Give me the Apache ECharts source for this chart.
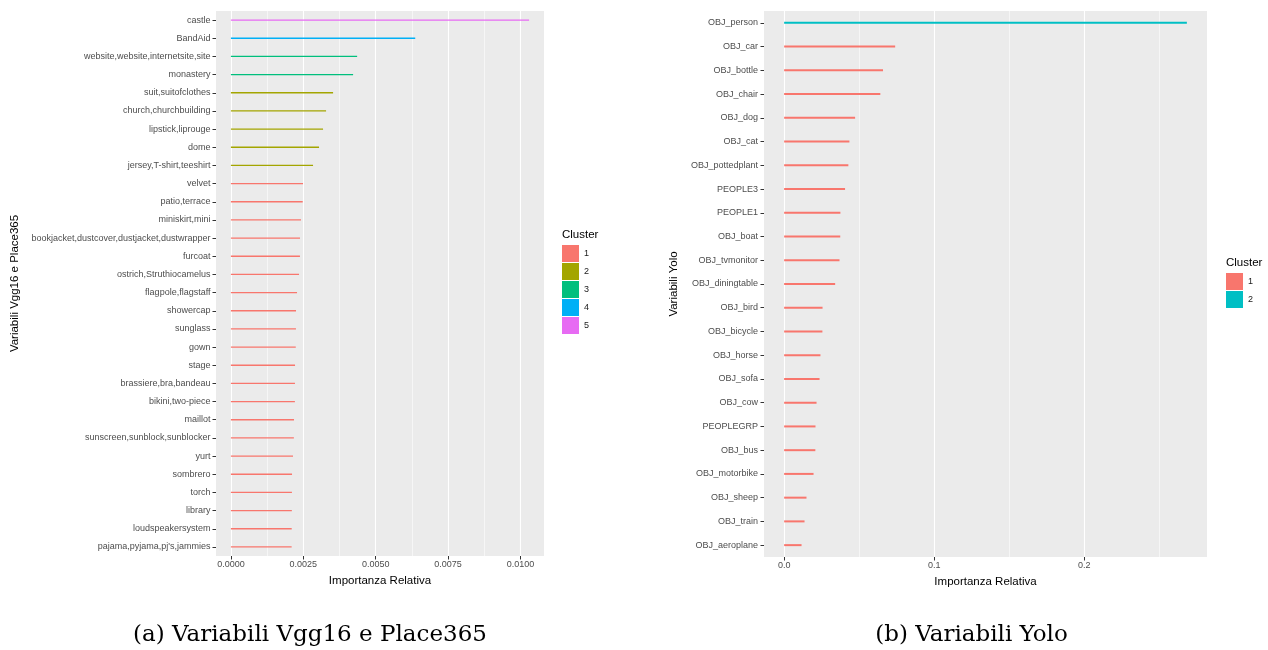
<!DOCTYPE html>
<html>
<head>
<meta charset="utf-8">
<title>Importanza Relativa</title>
<script src="https://cdn.jsdelivr.net/npm/echarts@6/dist/echarts.min.js"></script>
<style>
  html, body { margin: 0; padding: 0; background: #ffffff; }
  #vgg { position: absolute; left: 0; top: 0; width: 634px; height: 650px; }
  #yolo { position: absolute; left: 634px; top: 0; width: 634px; height: 650px; }
</style>
</head>
<body>
<div id="vgg"></div>
<div id="yolo"></div>
<script>
// ---- Vgg16 + Place365 variables ----
const vggCategories = [
  'castle', 'BandAid', 'website,website,internetsite,site', 'monastery',
  'suit,suitofclothes', 'church,churchbuilding', 'lipstick,liprouge', 'dome',
  'jersey,T-shirt,teeshirt', 'velvet', 'patio,terrace', 'miniskirt,mini',
  'bookjacket,dustcover,dustjacket,dustwrapper', 'furcoat', 'ostrich,Struthiocamelus',
  'flagpole,flagstaff', 'showercap', 'sunglass', 'gown', 'stage',
  'brassiere,bra,bandeau', 'bikini,two-piece', 'maillot', 'sunscreen,sunblock,sunblocker',
  'yurt', 'sombrero', 'torch', 'library', 'loudspeakersystem', "pajama,pyjama,pj's,jammies"
];
const vggValues = [
  0.01030, 0.006367, 0.004360, 0.004221,
  0.003529, 0.003287, 0.003183, 0.003045,
  0.002837, 0.002491, 0.002480, 0.002422,
  0.002388, 0.002385, 0.002353,
  0.002284, 0.002249, 0.002247, 0.002240, 0.002215,
  0.002213, 0.002210, 0.002180, 0.002175,
  0.002145, 0.002111, 0.002108, 0.002105, 0.002100, 0.002098
];
const vggClusters = [
  '5', '4', '3', '3',
  '2', '2', '2', '2',
  '2', '1', '1', '1',
  '1', '1', '1',
  '1', '1', '1', '1', '1',
  '1', '1', '1', '1',
  '1', '1', '1', '1', '1', '1'
];
const vggClusterNames = ['1', '2', '3', '4', '5'];
const vggColors = ['#F8766D', '#A3A500', '#00BF7D', '#00B0F6', '#E76BF3'];
const vggTicks = [0, 0.0025, 0.005, 0.0075, 0.01];
const vggMinorTicks = [0.00125, 0.00375, 0.00625, 0.00875];

// ---- Yolo variables ----
const yoloCategories = [
  'OBJ_person', 'OBJ_car', 'OBJ_bottle', 'OBJ_chair', 'OBJ_dog', 'OBJ_cat',
  'OBJ_pottedplant', 'PEOPLE3', 'PEOPLE1', 'OBJ_boat', 'OBJ_tvmonitor',
  'OBJ_diningtable', 'OBJ_bird', 'OBJ_bicycle', 'OBJ_horse', 'OBJ_sofa',
  'OBJ_cow', 'PEOPLEGRP', 'OBJ_bus', 'OBJ_motorbike', 'OBJ_sheep', 'OBJ_train',
  'OBJ_aeroplane'
];
const yoloValues = [
  0.2684, 0.0740, 0.0659, 0.0641, 0.0473, 0.0435,
  0.0428, 0.0406, 0.0375, 0.0374, 0.0369,
  0.0340, 0.0256, 0.0255, 0.0242, 0.0236,
  0.0216, 0.0209, 0.0208, 0.0196, 0.0149, 0.0136,
  0.0116
];
const yoloClusters = [
  '2', '1', '1', '1', '1', '1',
  '1', '1', '1', '1', '1',
  '1', '1', '1', '1', '1',
  '1', '1', '1', '1', '1', '1',
  '1'
];
const yoloClusterNames = ['1', '2'];
const yoloColors = ['#F8766D', '#00BFC4'];
const yoloTicks = [0, 0.1, 0.2];
const yoloMinorTicks = [0.05, 0.15, 0.25];

const FONT = '"Liberation Sans", Arial, Helvetica, sans-serif';
const SERIF = '"DejaVu Serif", "Liberation Serif", serif';

function buildOption(cfg) {
  const maxVal = Math.max.apply(null, cfg.values);
  // 5% padding on both sides of the value range
  const lo = -0.05 * maxVal;
  const hi = maxVal * 1.05;

  const series = cfg.clusterNames.map(function (name, k) {
    return {
      name: name,
      type: 'bar',
      xAxisIndex: 0,
      yAxisIndex: 0,
      barWidth: cfg.lineWidth,
      barGap: '-100%',
      itemStyle: { color: cfg.colors[k] },
      emphasis: { disabled: true },
      silent: true,
      data: cfg.values.map(function (v, i) {
        return cfg.clusters[i] === name ? v : '-';
      })
    };
  });

  const valueAxisCommon = {
    type: 'value',
    gridIndex: 0,
    min: lo,
    max: hi,
    axisLine: { show: false, onZero: false }
  };

  return {
    animation: false,
    textStyle: { fontFamily: FONT },
    grid: {
      left: cfg.grid.left, top: cfg.grid.top,
      width: cfg.grid.width, height: cfg.grid.height,
      show: true, backgroundColor: '#EBEBEB', borderWidth: 0
    },
    xAxis: [
      Object.assign({}, valueAxisCommon, {
        position: 'bottom',
        name: 'Importanza Relativa',
        nameLocation: 'middle',
        nameGap: 18,
        nameTextStyle: { color: '#000000', fontSize: 11.5, fontFamily: FONT },
        axisTick: {
          show: true, length: 3.5, customValues: cfg.ticks,
          lineStyle: { color: '#333333', width: 1 }
        },
        axisLabel: {
          show: true, margin: 4.5, customValues: cfg.ticks,
          color: '#4D4D4D', fontSize: 9, fontFamily: FONT,
          formatter: function (v) { return v.toFixed(cfg.decimals); }
        },
        splitLine: { show: true, lineStyle: { color: '#FFFFFF', width: 1.1 } }
      }),
      Object.assign({}, valueAxisCommon, {
        position: 'bottom',
        axisTick: { show: false, customValues: cfg.minorTicks },
        axisLabel: { show: false, customValues: cfg.minorTicks },
        splitLine: { show: true, lineStyle: { color: '#FFFFFF', width: 0.55 } }
      })
    ],
    yAxis: {
      type: 'category',
      gridIndex: 0,
      inverse: true,
      position: 'left',
      data: cfg.categories,
      name: cfg.yName,
      nameLocation: 'middle',
      nameGap: cfg.yNameGap,
      nameTextStyle: { color: '#000000', fontSize: 11.5, fontFamily: FONT },
      axisLine: { show: false, onZero: false },
      axisTick: {
        show: true, alignWithLabel: true, length: 3.5,
        lineStyle: { color: '#333333', width: 1 }
      },
      axisLabel: {
        show: true, interval: 0, margin: cfg.yLabelMargin,
        color: '#4D4D4D', fontSize: 9, fontFamily: FONT
      },
      splitLine: { show: false }
    },
    legend: {
      data: cfg.clusterNames,
      orient: 'vertical',
      left: cfg.legend.left,
      top: cfg.legend.top,
      icon: 'rect',
      itemWidth: 17,
      itemHeight: 17,
      itemGap: 1,
      padding: 0,
      selectedMode: false,
      textStyle: { color: '#1A1A1A', fontSize: 9, fontFamily: FONT }
    },
    graphic: [
      {
        type: 'text',
        left: cfg.legend.left, top: cfg.legend.titleTop,
        style: { text: 'Cluster', fill: '#000000', font: '11.5px ' + FONT }
      },
      {
        type: 'text',
        x: cfg.caption.x, y: cfg.caption.y,
        style: {
          text: cfg.caption.text, fill: '#000000',
          font: cfg.caption.size + 'px ' + SERIF,
          textAlign: 'center', textVerticalAlign: 'middle'
        }
      }
    ],
    series: series
  };
}

const vggChart = echarts.init(document.getElementById('vgg'), null, { renderer: 'canvas' });
vggChart.setOption(buildOption({
  categories: vggCategories,
  values: vggValues,
  clusters: vggClusters,
  clusterNames: vggClusterNames,
  colors: vggColors,
  ticks: vggTicks,
  minorTicks: vggMinorTicks,
  decimals: 4,
  lineWidth: 1.3,
  grid: { left: 216, top: 11, width: 328, height: 545 },
  yName: 'Variabili Vgg16 e Place365',
  yNameGap: 195,
  yLabelMargin: 5.5,
  legend: { left: 562, top: 245, titleTop: 229 },
  caption: { text: '(a) Variabili Vgg16 e Place365', x: 310, y: 635, size: 23 }
}));

const yoloChart = echarts.init(document.getElementById('yolo'), null, { renderer: 'canvas' });
yoloChart.setOption(buildOption({
  categories: yoloCategories,
  values: yoloValues,
  clusters: yoloClusters,
  clusterNames: yoloClusterNames,
  colors: yoloColors,
  ticks: yoloTicks,
  minorTicks: yoloMinorTicks,
  decimals: 1,
  lineWidth: 2,
  grid: { left: 130, top: 11, width: 443, height: 546 },
  yName: 'Variabili Yolo',
  yNameGap: 79,
  yLabelMargin: 6,
  legend: { left: 592, top: 273, titleTop: 257 },
  caption: { text: '(b) Variabili Yolo', x: 337.5, y: 635, size: 23 }
}));
</script>
</body>
</html>
